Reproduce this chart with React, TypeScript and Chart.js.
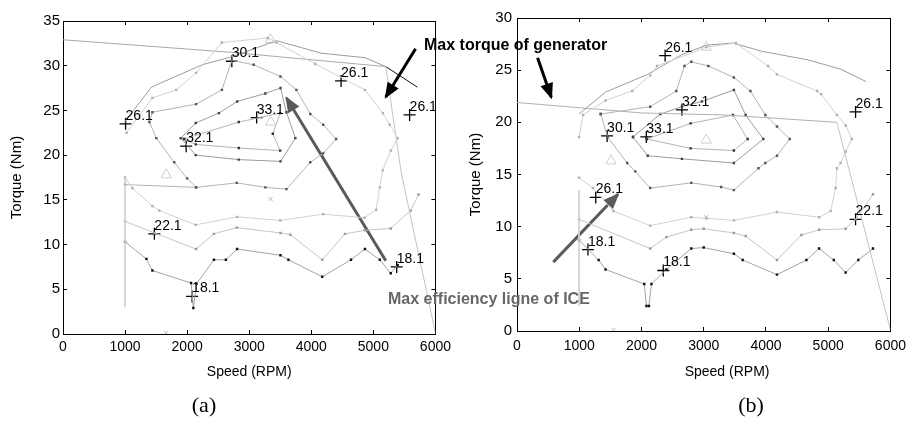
import React, { useEffect, useRef } from "react";
import { Chart, registerables } from "chart.js";
Chart.register(...registerables);

const FONT = "'Liberation Sans', Arial, Helvetica, sans-serif";

// ---------------- shared axis data ----------------
const speedTicks = [0, 1000, 2000, 3000, 4000, 5000, 6000];
const torqueTicksA = [0, 5, 10, 15, 20, 25, 30, 35];
const torqueTicksB = [0, 5, 10, 15, 20, 25, 30];

// ---------------- chart (a): [speed rpm, torque Nm] ----------------
const genTorqueA = [[0, 32.9], [2700, 31.5], [5200, 29.9]];
const genTorqueEndA = [[5200, 29.9], [5710, 27.6]];
const boundaryA = [[5200, 29.9], [5450, 18.0], [6000, 0.1]];
const arc26A = [[992, 23.7], [1424, 27.6], [2240, 30.1], [2720, 31.0], [3440, 32.8], [4160, 31.4], [4864, 30.9], [5200, 29.9]];
const ring26A = [[1024, 22.5], [1440, 26.4], [1824, 27.3], [2144, 29.2], [2560, 32.6], [3300, 33.1], [3440, 32.6], [4064, 30.2], [4864, 27.3], [5152, 24.7], [5264, 23.4], [5392, 21.9], [5280, 20.5], [5150, 18.3], [5104, 16.4], [5045, 13.9], [4859, 13.0], [4192, 13.4], [3499, 12.7], [2805, 13.1], [2139, 12.2], [1552, 13.8], [1440, 14.3], [1120, 16.3], [1000, 17.5]];
const ring28A = [[1000, 16.7], [2144, 16.4], [2800, 16.9], [3259, 16.4], [3600, 16.2], [3984, 19.2], [4192, 20.2], [4400, 21.8], [4192, 23.4], [3984, 24.6], [3760, 27.3], [3504, 28.8], [3072, 30.1], [2720, 30.6], [2560, 27.3], [2144, 25.7], [1440, 24.8], [1392, 23.7], [1504, 21.9], [1792, 19.2], [2000, 17.4], [2144, 16.4]];
const ring32A = [[1899, 21.9], [2139, 23.6], [2512, 24.7], [2805, 26.0], [3259, 26.9], [3504, 27.5], [3600, 24.8], [3744, 21.9], [3504, 19.3], [2832, 19.5], [2139, 20.0], [1899, 21.9]];
const ring33A = [[1950, 21.8], [2832, 23.7], [3499, 24.7], [3380, 22.4], [3499, 20.5], [2832, 20.8], [2139, 21.2], [1950, 21.8]];
const low22A = [[1000, 12.6], [1472, 11.3], [2144, 9.5], [2432, 11.2], [2800, 11.9], [3504, 11.3], [3664, 11.1], [4176, 8.3], [4544, 11.2], [4864, 11.6], [5280, 11.8], [5600, 13.8], [5728, 15.6]];
const low18A = [[1000, 10.3], [1344, 8.4], [1440, 7.1], [2064, 5.7], [2100, 2.9], [2150, 5.6], [2432, 8.3], [2624, 8.3], [2805, 9.5], [3504, 8.8], [3632, 8.3], [4176, 6.4], [4640, 8.3], [4864, 9.5], [5104, 8.3], [5280, 6.8], [5392, 7.7]];
const verticalA = [[1000, 17.5], [1000, 3.0]];
const triMarksA = [[1664, 17.8], [3344, 32.9], [3344, 23.7]];
const xMarksA = [[3344, 15.1], [1664, 0.1]];
const labelTextA = ["30.1", "26.1", "32.1", "33.1", "26.1", "26.1", "22.1", "18.1", "18.1"];
const labelSpeedA = [2720, 1008, 1984, 3120, 4480, 5584, 1472, 2080, 5376];
const labelTorqueA = [30.5, 23.5, 21.0, 24.2, 28.3, 24.5, 11.2, 4.2, 7.5];
const genArrowA = [[5680, 31.9], [5200, 26.5]];
const iceArrowA = [[5200, 8.2], [3600, 26.4]];

// ---------------- chart (b) ----------------
const genTorqueB = [[0, 21.9], [2000, 20.9], [3358, 20.7], [5140, 20.0]];
const boundaryB = [[5140, 20.0], [6000, 0.1]];
const arc26B = [[996, 20.8], [1423, 22.9], [2100, 24.6], [2650, 26.5], [3044, 27.4], [3469, 27.6], [3940, 26.8], [4665, 26.0], [5200, 25.1], [5610, 23.9]];
const ring26B = [[997, 18.6], [1060, 20.7], [1423, 22.1], [1850, 23.0], [2140, 24.5], [2250, 25.4], [3044, 27.2], [3516, 27.6], [4035, 25.4], [4177, 24.6], [4822, 23.0], [4886, 22.7], [5140, 20.7], [5280, 19.7], [5380, 18.4], [5280, 17.2], [5200, 16.1], [5140, 15.6], [5120, 13.7], [5040, 11.5], [4854, 10.9], [4177, 11.4], [3485, 10.6], [3044, 10.8], [2800, 10.9], [2140, 10.1], [1550, 11.5], [1220, 13.7], [997, 14.7]];
const ring30B = [[1345, 20.8], [2140, 21.5], [2560, 23.0], [2690, 25.4], [2800, 25.8], [3075, 25.4], [3485, 24.3], [3750, 23.0], [3990, 20.7], [4177, 19.6], [4382, 18.4], [4177, 16.8], [3990, 16.1], [3880, 15.6], [3485, 13.5], [3280, 13.8], [2800, 14.2], [2140, 13.7], [1900, 15.3], [1770, 16.1], [1455, 18.6], [1345, 20.8]];
const ring32B = [[1864, 18.6], [2305, 20.8], [2650, 21.5], [2970, 22.0], [3485, 23.1], [3674, 20.7], [3958, 18.4], [3485, 16.1], [2650, 16.5], [2100, 16.8], [1864, 18.6]];
const ring33B = [[2085, 18.4], [2790, 19.9], [3470, 20.7], [3706, 18.4], [3485, 17.3], [2790, 17.5], [2085, 18.4]];
const low22B = [[997, 10.7], [2140, 7.9], [2400, 9.0], [2800, 9.7], [3000, 9.8], [3485, 9.4], [3674, 9.1], [4177, 6.8], [4570, 9.2], [4854, 9.7], [5280, 9.8], [5440, 10.7], [5720, 13.1]];
const low18B = [[997, 8.7], [1312, 6.8], [1423, 5.9], [2045, 4.5], [2080, 2.4], [2120, 2.4], [2160, 4.5], [2400, 5.9], [2800, 7.9], [3000, 8.0], [3485, 7.4], [3627, 6.8], [4177, 5.4], [4650, 6.8], [4854, 7.9], [5090, 6.8], [5280, 5.6], [5484, 6.8], [5720, 7.9]];
const verticalB = [[997, 13.5], [997, 2.4]];
const triMarksB = [[1510, 16.3], [3040, 27.2], [3040, 18.3]];
const xMarksB = [[3040, 10.9], [1550, 0.1]];
const labelTextB = ["26.1", "32.1", "26.1", "30.1", "33.1", "26.1", "18.1", "18.1", "22.1"];
const labelSpeedB = [2380, 2650, 5440, 1448, 2078, 1265, 1140, 2350, 5440];
const labelTorqueB = [26.4, 21.2, 21.0, 18.7, 18.6, 12.8, 7.8, 5.8, 10.7];
const genArrowB = [[330, 26.2], [551, 22.4]];
const iceArrowB = [[583, 6.6], [1622, 13.1]];

// ---------------- helpers ----------------
const pts = (arr: number[][]) => arr.map(([x, y]) => ({ x, y }));

function contour(arr: number[][], color: string, dot: string | null, width = 1) {
  return {
    data: pts(arr),
    showLine: true,
    borderColor: color,
    borderWidth: width,
    pointRadius: dot ? 1.7 : 0,
    pointStyle: "rect",
    pointBackgroundColor: dot || color,
    pointBorderWidth: 0,
    tension: 0,
  };
}

function marks(arr: number[][], style: string, color: string, r: number) {
  return {
    data: pts(arr),
    showLine: false,
    pointStyle: style,
    pointRadius: r,
    pointBorderColor: color,
    pointBackgroundColor: "rgba(0,0,0,0)",
    pointBorderWidth: 1,
  };
}

function labelSet(texts: string[], xs: number[], ys: number[]) {
  return {
    data: xs.map((x, i) => ({ x, y: ys[i] })),
    showLine: false,
    pointStyle: "cross",
    pointRadius: 6,
    pointBorderColor: "#000",
    pointBorderWidth: 1.3,
    labelTexts: texts,
  };
}

function arrow(arr: number[][], color: string) {
  return {
    data: pts(arr),
    showLine: true,
    borderColor: color,
    borderWidth: 3,
    pointRadius: 0,
    arrow: true,
  };
}

const annotPlugin = {
  id: "annot",
  afterDatasetsDraw(chart: any) {
    const ctx = chart.ctx;
    chart.data.datasets.forEach((ds: any, i: number) => {
      const meta = chart.getDatasetMeta(i);
      if (ds.arrow) {
        const els = meta.data;
        const a = els[els.length - 2];
        const b = els[els.length - 1];
        const ang = Math.atan2(b.y - a.y, b.x - a.x);
        const L = 14;
        const W = 6.5;
        const bx = b.x - L * Math.cos(ang);
        const by = b.y - L * Math.sin(ang);
        ctx.save();
        ctx.fillStyle = ds.borderColor;
        ctx.beginPath();
        ctx.moveTo(b.x + 2 * Math.cos(ang), b.y + 2 * Math.sin(ang));
        ctx.lineTo(bx + W * Math.sin(ang), by - W * Math.cos(ang));
        ctx.lineTo(bx - W * Math.sin(ang), by + W * Math.cos(ang));
        ctx.closePath();
        ctx.fill();
        ctx.restore();
      }
      if (ds.labelTexts) {
        ctx.save();
        ctx.font = `14px ${FONT}`;
        ctx.fillStyle = "#000";
        ctx.textBaseline = "alphabetic";
        ctx.textAlign = "left";
        meta.data.forEach((el: any, j: number) => {
          ctx.fillText(ds.labelTexts[j], el.x, el.y - 4);
        });
        ctx.restore();
      }
    });
  },
};

function makeScales(o: any) {
  const tickGrid = { drawOnChartArea: false, drawTicks: true, tickLength: -4, color: "#000", lineWidth: 1 };
  const border = { display: true, color: "#000", width: 1 };
  return {
    x: {
      type: "linear",
      position: "bottom",
      min: 0,
      max: 6000,
      afterBuildTicks: (s: any) => { s.ticks = speedTicks.map((v) => ({ value: v })); },
      ticks: {
        color: "#000",
        font: { family: FONT, size: 14 },
        padding: o.xTickPad,
        maxRotation: 0,
        autoSkip: false,
        callback: (v: any) => String(v),
      },
      grid: tickGrid,
      border,
      title: {
        display: true,
        text: o.xTitle,
        color: "#000",
        font: { family: FONT, size: 14 },
        padding: { top: 0, bottom: o.xTitlePad },
      },
      afterFit: (s: any) => { s.height = o.xHeight; },
    },
    x2: {
      type: "linear",
      position: "top",
      min: 0,
      max: 6000,
      afterBuildTicks: (s: any) => { s.ticks = speedTicks.map((v) => ({ value: v })); },
      ticks: { display: false },
      grid: tickGrid,
      border,
      afterFit: (s: any) => { s.height = 0; },
    },
    y: {
      type: "linear",
      position: "left",
      min: 0,
      max: o.yMax,
      afterBuildTicks: (s: any) => { s.ticks = o.yTicks.map((v: number) => ({ value: v })); },
      ticks: {
        color: "#000",
        font: { family: FONT, size: 15 },
        padding: o.yTickPad,
        callback: (v: any) => String(v),
      },
      grid: tickGrid,
      border,
      title: {
        display: true,
        text: "Torque (Nm)",
        color: "#000",
        font: { family: FONT, size: 15 },
        padding: { top: o.yTitlePad, bottom: 0 },
      },
      afterFit: (s: any) => { s.width = o.yWidth; },
    },
    y2: {
      type: "linear",
      position: "right",
      min: 0,
      max: o.yMax,
      afterBuildTicks: (s: any) => { s.ticks = o.yTicks.map((v: number) => ({ value: v })); },
      ticks: { display: false },
      grid: tickGrid,
      border,
      afterFit: (s: any) => { s.width = 0; },
    },
  };
}

function makeConfig(datasets: any[], o: any) {
  return {
    type: "scatter",
    data: { datasets },
    options: {
      responsive: false,
      animation: false,
      events: [],
      layout: { padding: { left: 0, top: o.top, right: o.right, bottom: 0 } },
      plugins: { legend: { display: false }, tooltip: { enabled: false } },
      scales: makeScales(o),
    },
    plugins: [annotPlugin],
  };
}

const DARK = "#9c9c9c";
const MID = "#b4b4b4";
const LIGHT = "#d2d2d2";

function datasetsA() {
  return [
    contour(verticalA, LIGHT, null),
    contour(ring26A, LIGHT, "#b0b0b0"),
    contour(arc26A, DARK, null),
    contour(genTorqueA, "#a8a8a8", null),
    contour(boundaryA, "#c4c4c4", null),
    contour(ring28A, MID, "#555"),
    contour(ring32A, DARK, "#444"),
    contour(ring33A, MID, "#333"),
    contour(low22A, "#c6c6c6", "#9a9a9a"),
    contour(low18A, "#a4a4a4", "#111"),
    contour(genTorqueEndA, "#111", null),
    marks(triMarksA, "triangle", "#cfcfcf", 6),
    marks(xMarksA, "crossRot", "#bbbbbb", 3),
    labelSet(labelTextA, labelSpeedA, labelTorqueA),
    arrow(iceArrowA, "#5a5a5a"),
    arrow(genArrowA, "#000"),
  ];
}

function datasetsB() {
  return [
    contour(verticalB, LIGHT, null),
    contour(ring26B, LIGHT, "#b0b0b0"),
    contour(arc26B, DARK, null),
    contour(genTorqueB, "#b0b0b0", null),
    contour(boundaryB, "#c4c4c4", null),
    contour(ring30B, MID, "#555"),
    contour(ring32B, DARK, "#444"),
    contour(ring33B, MID, "#333"),
    contour(low22B, "#c6c6c6", "#9a9a9a"),
    contour(low18B, "#a4a4a4", "#111"),
    marks(triMarksB, "triangle", "#cfcfcf", 6),
    marks(xMarksB, "crossRot", "#bbbbbb", 3),
    labelSet(labelTextB, labelSpeedB, labelTorqueB),
    arrow(iceArrowB, "#5a5a5a"),
    arrow(genArrowB, "#000"),
  ];
}

function ChartCanvas({ make, width, height, left }: any) {
  const ref = useRef<HTMLCanvasElement>(null);
  useEffect(() => {
    const chart = new Chart(ref.current as HTMLCanvasElement, make() as any);
    return () => chart.destroy();
  }, []);
  return (
    <canvas
      ref={ref}
      width={width}
      height={height}
      style={{ position: "absolute", left, top: 0, width, height }}
    />
  );
}

export default function App() {
  const optsA = {
    yMax: 35, yTicks: torqueTicksA, top: 21, right: 22, yWidth: 63, xHeight: 89,
    xTickPad: 9, yTickPad: 7, xTitle: "Speed (RPM)", xTitlePad: 42, yTitlePad: 8,
  };
  const optsB = {
    yMax: 30, yTicks: torqueTicksB, top: 13, right: 19, yWidth: 57, xHeight: 92,
    xTickPad: 11, yTickPad: 9, xTitle: "            Speed (RPM)", xTitlePad: 42, yTitlePad: 7,
  };
  const center = (x: number, y: number): any => ({
    position: "absolute", left: x, top: y, transform: "translate(-50%,-50%)", whiteSpace: "nowrap",
  });
  return (
    <div style={{ position: "absolute", left: 0, top: 0, width: 917, height: 423, background: "#fff", overflow: "hidden" }}>
      <ChartCanvas make={() => makeConfig(datasetsA(), optsA)} width={460} height={423} left={0} />
      <ChartCanvas make={() => makeConfig(datasetsB(), optsB)} width={457} height={423} left={460} />
      <div style={{ position: "absolute", left: 424, top: 36, font: `bold 16px ${FONT}`, color: "#000", whiteSpace: "nowrap", lineHeight: "18px" }}>
        Max torque of generator
      </div>
      <div style={{ position: "absolute", left: 388, top: 290, font: `bold 16px ${FONT}`, color: "#676767", whiteSpace: "nowrap", lineHeight: "18px" }}>
        Max efficiency ligne of ICE
      </div>
      <div style={{ ...center(204, 405), font: `22px 'Liberation Serif', 'Times New Roman', serif`, color: "#000" }}>(a)</div>
      <div style={{ ...center(751, 405), font: `22px 'Liberation Serif', 'Times New Roman', serif`, color: "#000" }}>(b)</div>
    </div>
  );
}
